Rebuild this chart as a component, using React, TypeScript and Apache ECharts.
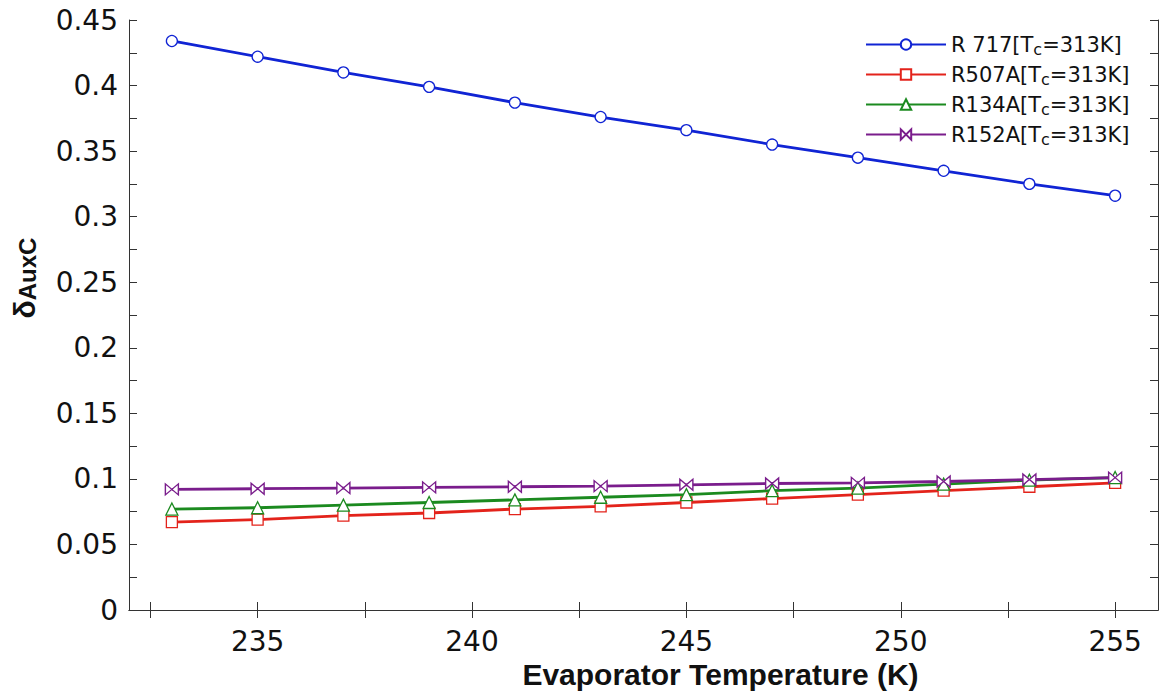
import React, { useEffect, useRef } from "react";
import * as echarts from "echarts";

const temps = [233, 235, 237, 239, 241, 243, 245, 247, 249, 251, 253, 255];
const r717 = [0.434, 0.422, 0.41, 0.399, 0.387, 0.376, 0.366, 0.355, 0.345, 0.335, 0.325, 0.316];
const r507a = [0.067, 0.069, 0.072, 0.074, 0.077, 0.079, 0.082, 0.085, 0.088, 0.091, 0.094, 0.097];
const r134a = [0.077, 0.078, 0.08, 0.082, 0.084, 0.086, 0.088, 0.091, 0.093, 0.096, 0.099, 0.101];
const r152a = [0.092, 0.0925, 0.093, 0.0935, 0.094, 0.0945, 0.0955, 0.0965, 0.097, 0.098, 0.0995, 0.101];
const seriesNames = ["R 717", "R507A", "R134A", "R152A"];
const xTickValues = [232.5, 235, 237.5, 240, 242.5, 245, 247.5, 250, 252.5, 255];
const xLabelValues = [235, 240, 245, 250, 255];

const bowtie = "path://M0,0 L0,10 L10,0 L10,10 Z";

export default function App() {
  const ref = useRef<HTMLDivElement>(null);
  useEffect(() => {
    if (!ref.current) return;
    const chart = echarts.init(ref.current, null, { renderer: "svg" });
    const colors = ["#1024d4", "#e3231b", "#1b8a1f", "#7a1d8c"];
    const symbols = ["circle", "rect", "triangle", bowtie];
    const datas = [r717, r507a, r134a, r152a];
    const axisLine = { show: true, lineStyle: { color: "#333", width: 1 } };
    const labelFont = "DejaVu Sans, Verdana, sans-serif";
    chart.setOption({
      animation: false,
      backgroundColor: "#fff",
      grid: { left: 129, top: 20, right: 5, bottom: 85, containLabel: false },
      legend: {
        orient: "vertical",
        left: 860,
        top: 29,
        itemWidth: 80,
        itemHeight: 13,
        itemGap: 7,
        data: seriesNames,
        formatter: (n: string) => `${n}[T{sub|c}=313K]`,
        textStyle: {
          fontFamily: labelFont,
          fontSize: 21,
          color: "#111",
          rich: {
            sub: { fontSize: 16, verticalAlign: "bottom", padding: [9, 0, 0, 0], fontFamily: labelFont, color: "#111" },
          },
        },
      },
      xAxis: [
        {
          type: "value",
          min: 232,
          max: 256,
          name: "Evaporator Temperature (K)",
          nameLocation: "middle",
          nameGap: 48,
          nameTextStyle: { fontFamily: "Liberation Sans, Arial", fontWeight: "bold", fontSize: 30, color: "#111", padding: [0, 0, 0, 154] },
          axisLine,
          axisTick: { show: true, inside: true, length: 8, customValues: xTickValues, lineStyle: { color: "#333" } },
          axisLabel: { customValues: xLabelValues, margin: 17, fontFamily: labelFont, fontSize: 28, color: "#111" },
          splitLine: { show: false },
        },
        {
          type: "value",
          min: 232,
          max: 256,
          position: "top",
          axisLine,
          axisTick: { show: true, inside: true, length: 8, customValues: xTickValues, lineStyle: { color: "#333" } },
          axisLabel: { show: false },
          splitLine: { show: false },
        },
      ],
      yAxis: [
        {
          type: "value",
          min: 0,
          max: 0.45,
          interval: 0.025,
          name: "{d|δ}{s|AuxC}",
          nameLocation: "middle",
          nameGap: 90,
          nameTextStyle: {
            padding: [0, 0, 0, 74],
            rich: {
              d: { fontFamily: "Liberation Sans, Arial", fontWeight: "bold", fontSize: 30, color: "#111" },
              s: { fontFamily: "Liberation Sans, Arial", fontWeight: "bold", fontSize: 24, color: "#111", verticalAlign: "bottom", padding: [6, 0, 0, 0] },
            },
          },
          axisLine,
          axisTick: { show: true, inside: true, length: 8, lineStyle: { color: "#333" } },
          axisLabel: {
            margin: 11,
            fontFamily: labelFont,
            fontSize: 28,
            color: "#111",
            formatter: (v: number) => (Math.round(v * 1000) % 50 === 0 ? String(Math.round(v * 1000) / 1000) : ""),
          },
          splitLine: { show: false },
        },
        {
          type: "value",
          min: 0,
          max: 0.45,
          interval: 0.025,
          position: "right",
          axisLine,
          axisTick: { show: true, inside: true, length: 8, lineStyle: { color: "#333" } },
          axisLabel: { show: false },
          splitLine: { show: false },
        },
      ],
      series: seriesNames.map((name, i) => ({
        name,
        type: "line",
        xAxisIndex: 0,
        yAxisIndex: 0,
        data: temps.map((t, j) => [t, datas[i][j]]),
        symbol: symbols[i],
        symbolSize: i === 3 ? [13, 11] : i === 2 ? 12 : 11,
        showAllSymbol: true,
        lineStyle: { color: colors[i], width: 2.8 },
        itemStyle: { color: "#fff", borderColor: colors[i], borderWidth: 1.3 },
      })),
    });
    return () => chart.dispose();
  }, []);
  return <div ref={ref} style={{ position: "absolute", left: 0, top: 0, width: 1163, height: 695 }} />;
}
